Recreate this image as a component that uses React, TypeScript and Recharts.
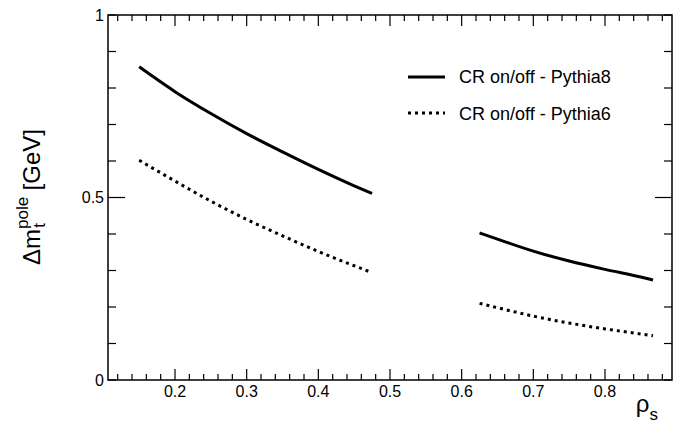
import React from 'react'
import {
  LineChart,
  Line,
  XAxis,
  YAxis,
  Legend,
  ReferenceArea,
} from 'recharts'

// rho_s values and the two curves (null = gap between the two scans)
const rho = [0.15, 0.2, 0.25, 0.3, 0.35, 0.4, 0.45, 0.475, 0.55, 0.625, 0.65, 0.7, 0.75, 0.8, 0.85, 0.867]
const pythia8 = [0.858, 0.79, 0.73, 0.675, 0.625, 0.577, 0.532, 0.511, null, 0.403, 0.386, 0.353, 0.326, 0.303, 0.282, 0.274]
const pythia6 = [0.602, 0.545, 0.49, 0.44, 0.395, 0.352, 0.313, 0.294, null, 0.21, 0.198, 0.175, 0.156, 0.14, 0.126, 0.121]
const seriesNames = ['CR on/off - Pythia8', 'CR on/off - Pythia6']

const xTicks = [0.12, 0.14, 0.16, 0.18, 0.2, 0.22, 0.24, 0.26, 0.28, 0.3, 0.32, 0.34, 0.36, 0.38, 0.4,
  0.42, 0.44, 0.46, 0.48, 0.5, 0.52, 0.54, 0.56, 0.58, 0.6, 0.62, 0.64, 0.66, 0.68, 0.7,
  0.72, 0.74, 0.76, 0.78, 0.8, 0.82, 0.84, 0.86, 0.88]
const xMajor = ['0.2', '0.3', '0.4', '0.5', '0.6', '0.7', '0.8']
const yTicks = [0, 0.1, 0.2, 0.3, 0.4, 0.5, 0.6, 0.7, 0.8, 0.9, 1]
const yLabels: Record<string, string> = { '0': '0', '0.5': '0.5', '1': '1' }

const X_MIN = 0.1065
const X_MAX = 0.8935

const W = 690
const H = 428
const PLOT_TOP = 15
const PLOT_RIGHT = 672
const FONT = 'Liberation Sans, Arial, Helvetica, sans-serif'

const data = rho.map((r, i) => ({ rho: r, p8: pythia8[i], p6: pythia6[i] }))

function XTick(props: any) {
  const { x, y, payload } = props
  const lab = Number(payload.value).toFixed(2).replace(/0$/, '')
  const major = xMajor.includes(lab)
  const len = major ? 11 : 6
  return (
    <g>
      <line x1={x} x2={x} y1={y} y2={y - len} stroke="#000" strokeWidth={1.2} />
      <line x1={x} x2={x} y1={PLOT_TOP} y2={PLOT_TOP + len} stroke="#000" strokeWidth={1.2} />
      {major && (
        <text x={x} y={y + 17} textAnchor="middle" fontSize={16} fontFamily={FONT} fill="#000">
          {lab}
        </text>
      )}
    </g>
  )
}

function YTick(props: any) {
  const { x, y, payload } = props
  const key = String(Math.round(payload.value * 10) / 10)
  const lab = yLabels[key]
  const len = key === '0.5' ? 17 : 8
  return (
    <g>
      <line x1={x} x2={x + len} y1={y} y2={y} stroke="#000" strokeWidth={1.2} />
      <line x1={PLOT_RIGHT} x2={PLOT_RIGHT - len} y1={y} y2={y} stroke="#000" strokeWidth={1.2} />
      {lab && (
        <text x={x - 4} y={y} dy="0.36em" textAnchor="end" fontSize={16} fontFamily={FONT} fill="#000">
          {lab}
        </text>
      )}
    </g>
  )
}

function YTitle() {
  return (
    <text
      x={40}
      y={197}
      transform="rotate(-90, 40, 197)"
      textAnchor="middle"
      fontSize={24}
      fontFamily={FONT}
      fill="#000"
    >
      Δm
      <tspan fontSize={17} dy={-12}>pole</tspan>
      <tspan fontSize={17} dx={-31} dy={17}>t</tspan>
      <tspan dx={26} dy={-5}> [GeV]</tspan>
    </text>
  )
}

function XTitle() {
  return (
    <text x={658} y={412} textAnchor="end" fontSize={24} fontFamily={FONT} fill="#000">
      ρ
      <tspan fontSize={17} dy={8}>s</tspan>
    </text>
  )
}

function LegendBox() {
  return (
    <svg width={W} height={H} style={{ position: 'absolute', left: 0, top: 0 }}>
      <line x1={408} x2={445} y1={77} y2={77} stroke="#000" strokeWidth={3} />
      <text x={459} y={83} fontSize={18} fontFamily={FONT} fill="#000">{seriesNames[0]}</text>
      <line x1={408} x2={445} y1={113} y2={113} stroke="#000" strokeWidth={3} strokeDasharray="3 4" />
      <text x={459} y={120} fontSize={18} fontFamily={FONT} fill="#000">{seriesNames[1]}</text>
    </svg>
  )
}

export default function App() {
  return (
    <div style={{ position: 'absolute', left: 0, top: 0, width: W, height: H, background: '#fff' }}>
      <LineChart width={W} height={H} data={data} margin={{ top: PLOT_TOP, right: W - PLOT_RIGHT, left: 8, bottom: 0 }}>
        <XAxis
          dataKey="rho"
          type="number"
          domain={[X_MIN, X_MAX]}
          allowDataOverflow
          ticks={xTicks}
          interval={0}
          tickSize={0}
          tickMargin={0}
          tickLine={false}
          axisLine={false}
          tick={<XTick />}
          height={48}
          label={{ content: () => <XTitle /> }}
        />
        <YAxis
          type="number"
          domain={[0, 1]}
          ticks={yTicks}
          interval={0}
          tickSize={0}
          tickMargin={0}
          tickLine={false}
          axisLine={false}
          tick={<YTick />}
          width={100}
          label={{ content: () => <YTitle /> }}
        />
        <ReferenceArea x1={X_MIN} x2={X_MAX} y1={0} y2={1} fill="none" fillOpacity={0} stroke="#000" strokeWidth={1.5} ifOverflow="visible" />
        <Legend
          layout="vertical"
          align="center"
          verticalAlign="middle"
          wrapperStyle={{ top: 0, left: 0, width: W, height: H, pointerEvents: 'none' }}
          content={() => <LegendBox />}
        />
        <Line type="monotone" dataKey="p8" name={seriesNames[0]} stroke="#000" strokeWidth={3} dot={false} isAnimationActive={false} />
        <Line type="monotone" dataKey="p6" name={seriesNames[1]} stroke="#000" strokeWidth={3} strokeDasharray="3 4" dot={false} isAnimationActive={false} />
      </LineChart>
    </div>
  )
}
